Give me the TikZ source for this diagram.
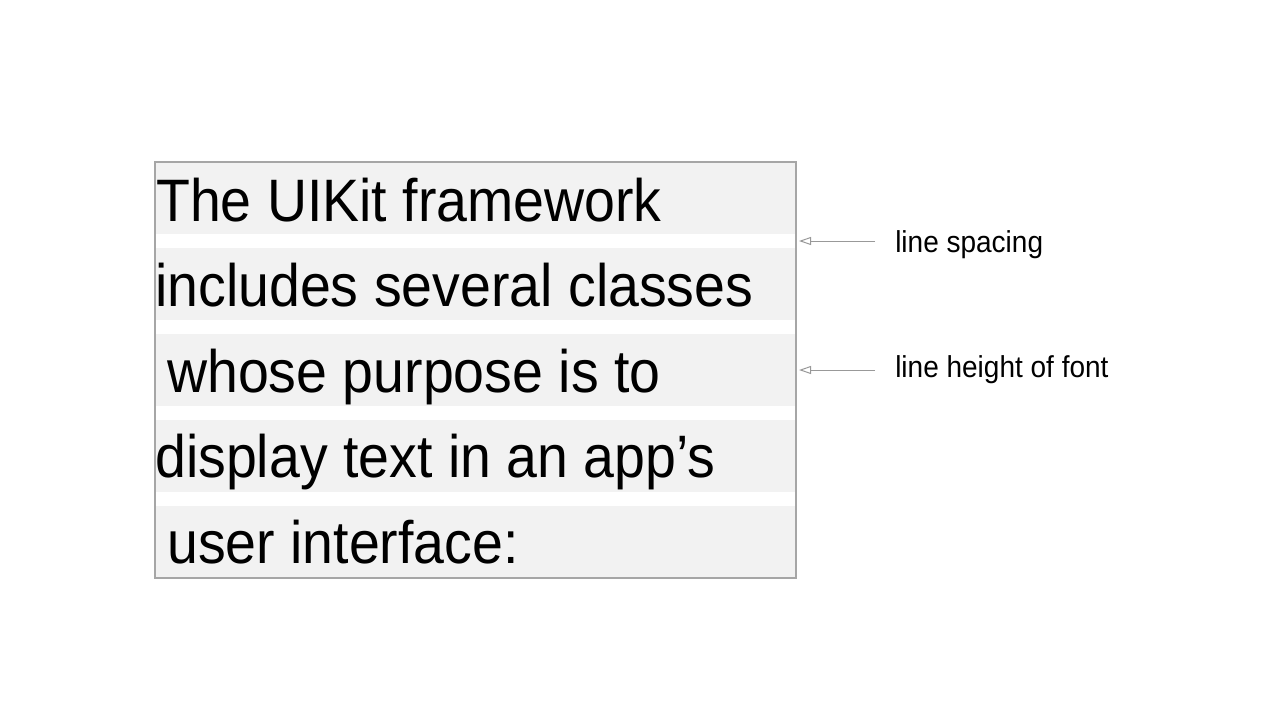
\documentclass[tikz,border=0pt]{standalone}
\usepackage{fontspec}
\usepackage{graphicx}
\setmainfont{Liberation Sans}
\usetikzlibrary{arrows.meta}
\definecolor{stripe}{HTML}{F2F2F2}
\definecolor{frame}{HTML}{A6A6A6}
\definecolor{arrgray}{HTML}{999999}
\newcommand{\tallbig}[1]{\scalebox{1}[1.08]{#1}}
\newcommand{\talllab}[1]{\scalebox{1}[1.08]{#1}}
\tikzset{
  stripebox/.style={fill=stripe, draw=none},
  bigtext/.style={anchor=base west, inner sep=0pt, font=\fontsize{41.6pt}{41.6pt}\selectfont},
  label/.style={anchor=base west, inner sep=0pt, font=\fontsize{21pt}{21pt}\selectfont},
  arr/.style={draw=arrgray, line width=0.75pt, -{Triangle[open, length=9pt, width=6pt]}}
}
\begin{document}
\begin{tikzpicture}[x=0.75pt, y=-0.75pt]
\useasboundingbox (0,0) rectangle (1282,726);
\fill[white] (0,0) rectangle (1282,726);
% stripes
\fill[stripebox] (155,162) rectangle (796,234);
\fill[stripebox] (155,248) rectangle (796,320);
\fill[stripebox] (155,334) rectangle (796,406);
\fill[stripebox] (155,420) rectangle (796,492);
\fill[stripebox] (155,506) rectangle (796,578);
% frame
\draw[frame, line width=0.8pt] (155,162) rectangle (796,578);
% text
\node[bigtext] (t1) at (156,221) {\tallbig{The UIKit framework}};
\node[bigtext] (t2) at (155,306) {\tallbig{includes several classes}};
\node[bigtext] (t3) at (167,392) {\tallbig{whose purpose is to}};
\node[bigtext] (t4) at (155,477) {\tallbig{display text in an app’s}};
\node[bigtext] (t5) at (167,563) {\tallbig{user interface:}};
% labels
\node[label] (ls) at (895,252) {\talllab{line spacing}};
\node[label] (lh) at (895,377) {\talllab{line height of font}};
\coordinate (s1) at (875,241);
\coordinate (e1) at (799,241);
\coordinate (s2) at (875,370);
\coordinate (e2) at (799,370);
\draw[arr] (s1) -- (e1);
\draw[arr] (s2) -- (e2);
\end{tikzpicture}
\end{document}
